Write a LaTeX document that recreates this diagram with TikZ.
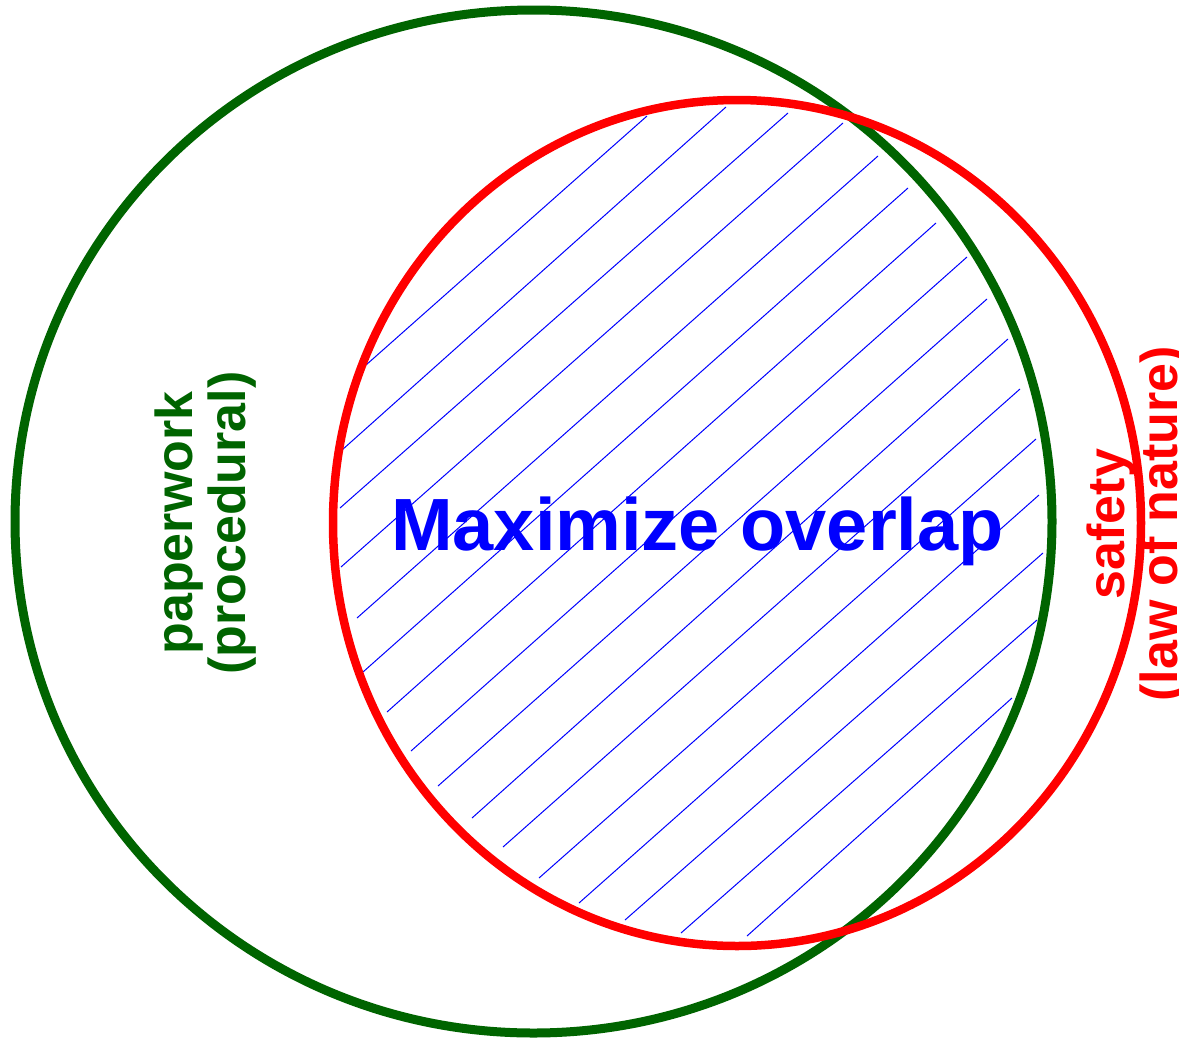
\documentclass[tikz,border=0pt]{standalone}
\usepackage{fontspec}
\setmainfont{Liberation Sans}
\definecolor{papergreen}{RGB}{0,100,0}
\definecolor{safetyred}{RGB}{255,0,0}
\definecolor{hatchblue}{RGB}{0,0,255}
\begin{document}
\begin{tikzpicture}[x=1pt,y=-1pt,
  paperline/.style={draw=papergreen, line width=9pt},
  safetyline/.style={draw=safetyred, line width=8.5pt},
  hatch/.style={draw=hatchblue, line width=1pt},
  sidelabel/.style={font=\fontsize{52}{53}\selectfont\bfseries,
    align=center, rotate=90, inner sep=0pt},
  headline/.style={font=\fontsize{74}{80}\selectfont\bfseries,
    text=hatchblue, inner sep=0pt}]
\useasboundingbox (0,0) rectangle (1179,1037);
\fill[white] (0,0) rectangle (1179,1037);

% hatching of the overlap
\foreach \ax/\ay/\bx/\by in {
  366/365/647/116, 342/450/726/107, 340/508/788/113, 341/567/843/123,
  357/618/878/156, 363/672/908/188, 387/712/936/223, 411/751/967/257,
  438/786/987/299, 472/818/1008/339, 503/847/1020/389, 539/878/1036/439,
  579/903/1039/495, 625/920/1043/553, 681/933/1037/620, 747/936/1012/698}
  \draw[hatch] (\ax,\ay) -- (\bx,\by);

% the two sets
\draw[paperline] (533.5,521.5) ellipse [x radius=518.5, y radius=511.5];
\draw[safetyline] (737,523) ellipse [x radius=404, y radius=423];

% labels
\node[headline, anchor=base] (goal) at (697.5,550) {Maximize overlap};
\node[sidelabel, text=papergreen] (paper) at (206,523) {paperwork\\(procedural)};
\node[sidelabel, text=safetyred] (safety) at (1138,524) {safety\\(law of nature)};
\end{tikzpicture}
\end{document}
